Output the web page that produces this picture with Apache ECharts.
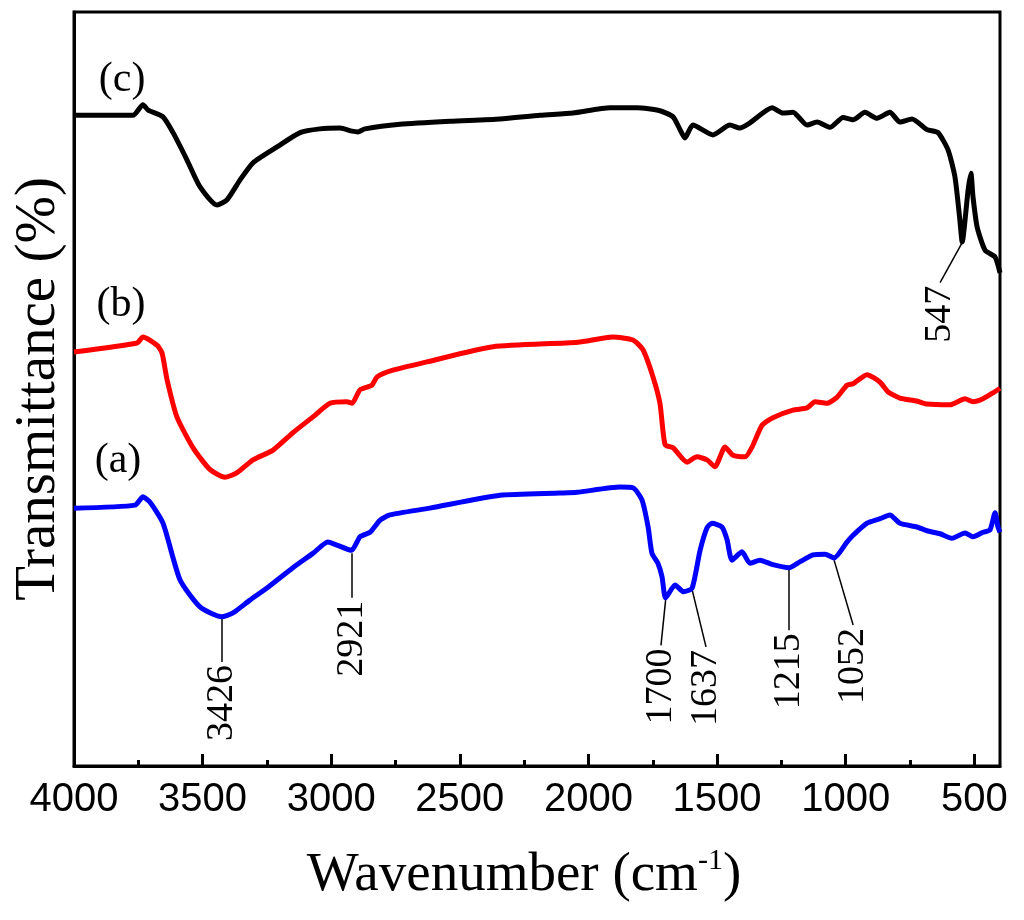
<!DOCTYPE html>
<html>
<head>
<meta charset="utf-8">
<title>FTIR spectra</title>
<script src="https://cdn.jsdelivr.net/npm/echarts@6/dist/echarts.min.js"></script>
<style>
	html, body { margin: 0; padding: 0; background: #fff; }
	#ftir { width: 1024px; height: 920px; }
</style>
</head>
<body>
<div id="ftir"></div>
<script>
// x axis ticks (cm-1)
var tickValues = [4000, 3500, 3000, 2500, 2000, 1500, 1000, 500];
var minorValues = [3750, 3250, 2750, 2250, 1750, 1250, 750];

// spectra: [wavenumber, transmittance (offset, a.u.)]
var curveA = [[4000,34.2],[3763,34.6],[3732,35.7],[3705,35.0],[3654,32.2],[3588,24.7],[3510,21.1],[3426,19.8],[3382,20.3],[3316,22.0],[3250,23.6],[3149,26.3],[3071,28.2],[3013,29.7],[2978,29.3],[2921,28.6],[2888,30.4],[2849,31.0],[2810,32.6],[2772,33.3],[2616,34.2],[2344,35.9],[2111,36.2],[2044,36.3],[1877,37.0],[1827,36.9],[1792,35.3],[1768,31.7],[1753,28.2],[1730,26.9],[1714,25.1],[1700,22.3],[1663,24.0],[1630,23.1],[1597,23.6],[1566,28.6],[1539,31.6],[1520,32.2],[1481,31.7],[1461,30.0],[1442,27.3],[1403,28.4],[1372,26.9],[1333,27.3],[1283,26.7],[1220,26.3],[1177,27.1],[1127,28.0],[1080,28.1],[1045,27.6],[995,29.7],[971,30.6],[917,32.2],[866,32.8],[828,33.3],[789,32.2],[723,31.7],[684,31.2],[633,30.8],[587,30.2],[536,30.9],[505,30.4],[466,31.0],[439,31.3],[419,33.6],[408,31.7],[400,31.0]];
var curveB = [[4000,54.9],[3755,56.1],[3732,56.9],[3677,55.8],[3658,54.8],[3638,51.2],[3600,46.3],[3537,42.2],[3471,39.3],[3413,38.3],[3366,38.9],[3304,40.6],[3226,41.9],[3149,44.2],[3071,46.3],[3005,48.1],[2939,48.3],[2919,48.1],[2888,49.9],[2842,50.5],[2822,51.6],[2760,52.5],[2628,53.6],[2371,55.6],[2041,56.2],[1905,56.9],[1827,56.5],[1788,55.2],[1749,51.6],[1722,48.1],[1702,42.6],[1671,42.2],[1617,40.3],[1578,41.0],[1539,40.6],[1508,39.7],[1469,42.3],[1438,41.2],[1391,41.0],[1364,42.3],[1325,45.2],[1283,46.2],[1205,47.2],[1150,47.5],[1119,48.3],[1073,48.1],[1034,48.9],[995,50.5],[971,50.7],[917,51.9],[866,50.9],[835,49.6],[789,48.8],[723,48.4],[684,48.0],[594,47.9],[536,48.7],[505,48.3],[466,48.7],[427,49.5],[400,50.1]];
var curveC = [[4000,86.3],[3771,86.3],[3732,87.7],[3712,87.0],[3654,86.1],[3615,84.0],[3561,80.4],[3510,76.8],[3444,74.4],[3405,75.1],[3355,77.7],[3304,80.0],[3211,82.1],[3121,84.0],[3044,84.5],[2966,84.6],[2919,84.2],[2896,84.1],[2869,84.5],[2733,85.1],[2538,85.5],[2344,85.8],[2188,86.3],[2060,86.6],[1916,87.3],[1811,87.3],[1722,86.9],[1671,86.1],[1644,84.4],[1625,83.3],[1594,85.0],[1516,83.7],[1450,85.0],[1411,84.6],[1372,85.3],[1286,87.3],[1244,86.6],[1205,86.7],[1150,85.0],[1111,85.4],[1061,84.7],[1010,86.0],[971,85.7],[925,86.7],[878,85.9],[828,86.7],[789,85.4],[742,85.8],[684,84.4],[641,84.0],[602,81.7],[575,78.1],[556,72.4],[547,69.5],[524,76.4],[513,78.6],[505,75.5],[489,71.5],[458,68.4],[419,67.5],[400,65.4]];

// peak marks: leader line start/end, label sits at the end
var peakLines = [
	[[3426,19.5],[3426,13.8]],
	[[2921,28.2],[2921,22.3]],
	[[1700,22.0],[1718,16.0]],
	[[1597,23.4],[1543,15.8]],
	[[1220,26.0],[1220,18.0]],
	[[1045,27.3],[971,18.7]],
	[[547,69.4],[633,64.1]]
];
var peakNames = ['3426', '2921', '1700', '1637', '1215', '1052', '547'];
var sampleNames = ['(a)', '(b)', '(c)'];
var samplePos = [[3829,40.5],[3817,61.1],[3813,91.0]];

var chart = echarts.init(document.getElementById('ftir'));

var peakLabelData = peakLines.map(function(l, i) {
	return {name: peakNames[i], value: [l[1][0], l[1][1] - 0.4]};
});
var sampleLabelData = samplePos.map(function(p, i) {
	return {name: sampleNames[i], value: p};
});

var option = {
	animation: false,
	backgroundColor: '#fff',
	grid: {
		left: 74, right: 24, top: 12, bottom: 154,
		show: true, borderColor: '#000', borderWidth: 3
	},
	xAxis: [{
		type: 'value',
		min: 400, max: 4000,
		inverse: true,
		name: '{t|Wavenumber (cm}{s|-1}{t|)}',
		nameLocation: 'middle',
		nameGap: 80,
		nameTextStyle: {
			padding: [0, 26, 0, 0],
			rich: {
				t: {fontFamily: 'Liberation Serif', fontSize: 55, color: '#000', lineHeight: 60},
				s: {fontFamily: 'Liberation Serif', fontSize: 30, color: '#000', lineHeight: 20, verticalAlign: 'top'}
			}
		},
		axisLine: {show: true, lineStyle: {color: '#000', width: 3}},
		axisTick: {show: true, inside: true, length: 12, customValues: tickValues, lineStyle: {color: '#000', width: 3}},
		axisLabel: {
			customValues: tickValues,
			formatter: function(v) { return String(v); },
			fontFamily: 'Liberation Sans', fontSize: 40, color: '#000', margin: 14
		},
		splitLine: {show: false}
	}, {
		// minor ticks, moved down onto the bottom edge
		type: 'value',
		min: 400, max: 4000,
		inverse: true,
		position: 'top',
		offset: -754,
		axisLine: {show: false},
		axisTick: {show: true, inside: false, length: 6, customValues: minorValues, lineStyle: {color: '#000', width: 3}},
		axisLabel: {show: false},
		splitLine: {show: false}
	}],
	yAxis: {
		type: 'value',
		min: 0, max: 100,
		name: 'Transmittance (%)',
		nameLocation: 'middle',
		nameRotate: 90,
		nameGap: 6,
		nameTextStyle: {fontFamily: 'Liberation Serif', fontSize: 57, color: '#000'},
		axisLine: {show: true, lineStyle: {color: '#000', width: 3}},
		axisTick: {show: false},
		axisLabel: {show: false},
		splitLine: {show: false}
	},
	series: [{
		name: '(a)', type: 'line', data: curveA, smooth: 0.2,
		showSymbol: false, lineStyle: {color: '#0000ff', width: 5}
	}, {
		name: '(b)', type: 'line', data: curveB, smooth: 0.2,
		showSymbol: false, lineStyle: {color: '#ff0000', width: 5}
	}, {
		name: '(c)', type: 'line', data: curveC, smooth: 0.2,
		showSymbol: false, lineStyle: {color: '#000000', width: 5}
	}, {
		name: 'leaders', type: 'lines', coordinateSystem: 'cartesian2d',
		data: peakLines.map(function(l) { return {coords: l}; }),
		lineStyle: {color: '#000', width: 1.5, opacity: 1},
		silent: true
	}, {
		name: 'peaks', type: 'scatter', symbolSize: 0,
		itemStyle: {color: '#000'},
		data: peakLabelData,
		silent: true,
		label: {
			show: true, formatter: '{b}', position: 'inside',
			rotate: 90, align: 'right', verticalAlign: 'middle',
			fontFamily: 'Liberation Serif', fontSize: 38, color: '#000',
			textBorderWidth: 0, opacity: 1
		}
	}, {
		name: 'samples', type: 'scatter', symbolSize: 0,
		itemStyle: {color: '#000'},
		data: sampleLabelData,
		silent: true,
		label: {
			show: true, formatter: '{b}', position: 'inside',
			align: 'center', verticalAlign: 'middle',
			fontFamily: 'Liberation Serif', fontSize: 42, color: '#000',
			textBorderWidth: 0, opacity: 1
		}
	}]
};

chart.setOption(option);
window.addEventListener('resize', chart.resize);
</script>
</body>
</html>
